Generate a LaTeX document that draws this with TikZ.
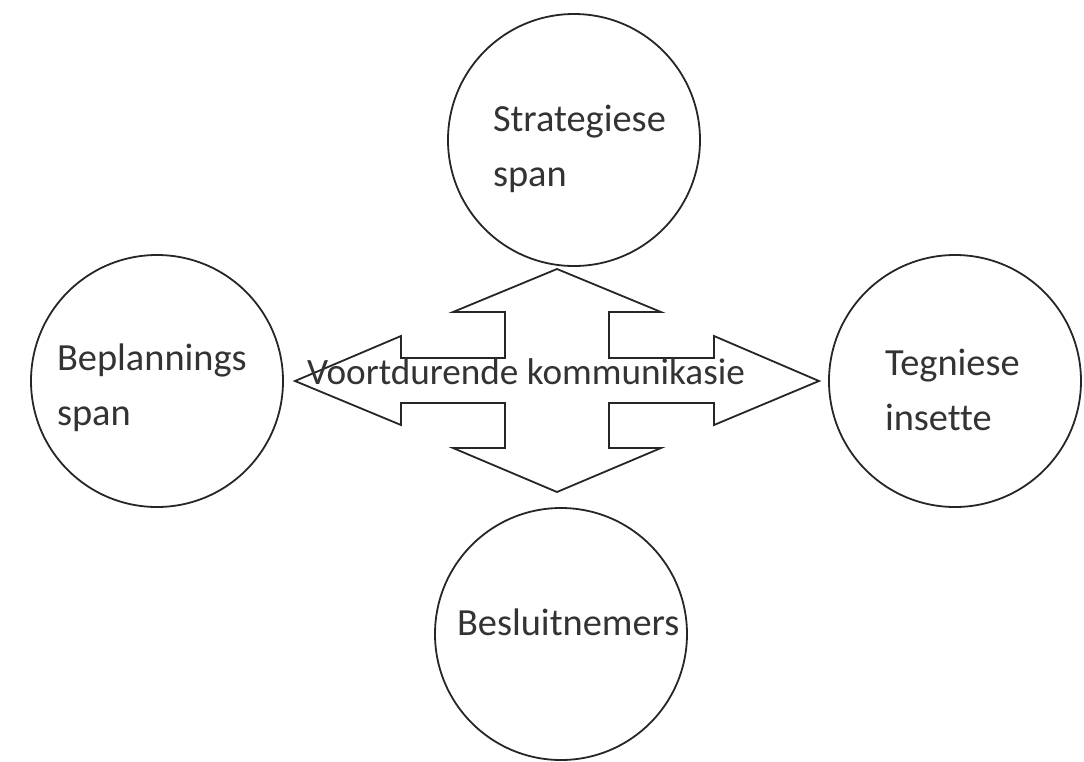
\documentclass[tikz,border=0pt]{standalone}
\usepackage{fontspec}
\setmainfont[Ligatures=CommonOff]{Carlito}
\begin{document}
\begin{tikzpicture}[x=0.5pt,y=-0.5pt,
  ring/.style={circle,draw=black!85,line width=0.9pt,minimum size=126pt,inner sep=0pt},
  lbl/.style={anchor=base west,inner sep=0pt,outer sep=0pt,text=black!80,font=\fontsize{19.2}{27.5}\selectfont},
  arrowlbl/.style={anchor=base west,inner sep=0pt,outer sep=0pt,text=black!80,font=\fontsize{18.6}{27.5}\selectfont},
  crossarrow/.style={draw=black!85,line width=0.9pt,fill=white,line join=miter}]
\useasboundingbox (0,0) rectangle (1084,762);
% circles
\node[ring] (strat) at (574,140) {};
\node[ring] (beplan) at (157,381) {};
\node[ring] (tegn) at (955,381) {};
\node[ring] (besl) at (561,634) {};
% four-way arrow
\draw[crossarrow] (557,269) -- (661,312) -- (609,312) -- (609,358) -- (714,358) -- (714,336)
  -- (819,381) -- (714,425) -- (714,403) -- (609,403) -- (609,448) -- (661,448)
  -- (557,492) -- (453,448) -- (505,448) -- (505,403) -- (401,403) -- (401,425)
  -- (295,381) -- (401,336) -- (401,358) -- (505,358) -- (505,312) -- (453,312) -- cycle;
% labels
\node[lbl] (tstrat) at (493,131) {\begin{tabular}[t]{@{}l@{}}Strategiese\\span\end{tabular}};
\node[lbl] (tbeplan) at (57,370) {\begin{tabular}[t]{@{}l@{}}Beplannings\\span\end{tabular}};
\node[lbl] (ttegn) at (885,375) {\begin{tabular}[t]{@{}l@{}}Tegniese\\insette\end{tabular}};
\node[lbl] (tbesl) at (457,635) {Besluitnemers};
\node[arrowlbl] (tkomm) at (307,384) {Voortdurende kommunikasie};
\end{tikzpicture}
\end{document}
